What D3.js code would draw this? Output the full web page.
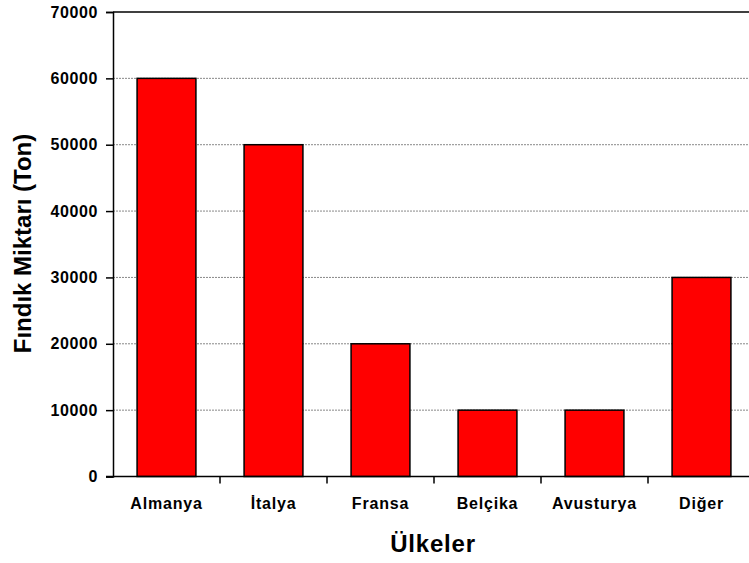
<!DOCTYPE html>
<html>
<head>
<meta charset="utf-8">
<script src="https://cdn.jsdelivr.net/npm/d3@7"></script>
<style>
  body { margin: 0; background: #fff; }
  svg { display: block; }
  text { font-family: "Liberation Sans", Arial, sans-serif; font-weight: bold; fill: #000; }
</style>
</head>
<body>
<svg id="chart" width="749" height="563"></svg>
<script>
// Hazelnut export quantities by country (tons)
const countries = ["Almanya", "İtalya", "Fransa", "Belçika", "Avusturya", "Diğer"];
const amounts = [60000, 50000, 20000, 10000, 10000, 30000];
const yTicks = [0, 10000, 20000, 30000, 40000, 50000, 60000, 70000];

const svg = d3.select("#chart");
const plotLeft = 113, plotRight = 755, plotTop = 12, plotBottom = 476.5;

const x = d3.scaleBand().domain(countries).range([plotLeft, plotRight]).paddingInner(0.45).paddingOuter(0.225);
const y = d3.scaleLinear().domain([0, 70000]).range([plotBottom, plotTop]);

// Horizontal gridlines
svg.append("g").selectAll("line")
  .data(yTicks.filter(d => d > 0 && d < 70000))
  .join("line")
  .attr("x1", plotLeft).attr("x2", plotRight)
  .attr("y1", d => y(d)).attr("y2", d => y(d))
  .attr("stroke", "#888").attr("stroke-width", 1).attr("stroke-dasharray", "2,1");

// Top frame line
svg.append("line")
  .attr("x1", plotLeft).attr("x2", plotRight)
  .attr("y1", y(70000)).attr("y2", y(70000))
  .attr("stroke", "#000").attr("stroke-width", 1.5);

// Bars
svg.append("g").selectAll("rect")
  .data(countries.map((c, i) => ({ c, v: amounts[i] })))
  .join("rect")
  .attr("x", d => x(d.c))
  .attr("y", d => y(d.v))
  .attr("width", x.bandwidth())
  .attr("height", d => y(0) - y(d.v))
  .attr("fill", "#ff0000")
  .attr("stroke", "#000")
  .attr("stroke-width", 1.5);

// Y axis
const yAxis = d3.axisLeft(y).tickValues(yTicks).tickSize(7).tickPadding(8).tickFormat(d3.format("d"));
const gy = svg.append("g").attr("transform", `translate(${plotLeft},0)`).call(yAxis);
gy.select(".domain").attr("stroke", "#000").attr("stroke-width", 1.5);
gy.selectAll(".tick line").attr("stroke", "#000").attr("stroke-width", 1.5);
gy.selectAll(".tick text")
  .attr("font-size", 16)
  .attr("letter-spacing", 0.6)
  .attr("font-family", "Liberation Sans, Arial, sans-serif")
  .attr("font-weight", "bold");

// X axis with ticks between categories
const gx = svg.append("g").attr("transform", `translate(0,${plotBottom})`);
gx.append("line").attr("x1", plotLeft - 7).attr("x2", plotRight).attr("y1", 0).attr("y2", 0)
  .attr("stroke", "#000").attr("stroke-width", 1.5);
const step = x.step();
const bounds = d3.range(1, countries.length).map(i => plotLeft + x.paddingOuter() * step - x.paddingInner() * step / 2 + i * step);
gx.selectAll(".sep").data(bounds).join("line")
  .attr("x1", d => d).attr("x2", d => d).attr("y1", 0).attr("y2", 7)
  .attr("stroke", "#000").attr("stroke-width", 1.5);
gx.selectAll(".lbl").data(countries).join("text")
  .attr("x", d => x(d) + x.bandwidth() / 2)
  .attr("y", 32.5)
  .attr("text-anchor", "middle")
  .attr("font-size", 16)
  .attr("letter-spacing", 0.8)
  .text(d => d);

// Axis titles
svg.append("text")
  .attr("x", 433).attr("y", 552)
  .attr("text-anchor", "middle")
  .attr("font-size", 24)
  .attr("letter-spacing", 0.8)
  .text("Ülkeler");

svg.append("text")
  .attr("transform", "translate(31,243.5) rotate(-90)")
  .attr("text-anchor", "middle")
  .attr("font-size", 24)
  .text("Fındık Miktarı (Ton)");
</script>
</body>
</html>
